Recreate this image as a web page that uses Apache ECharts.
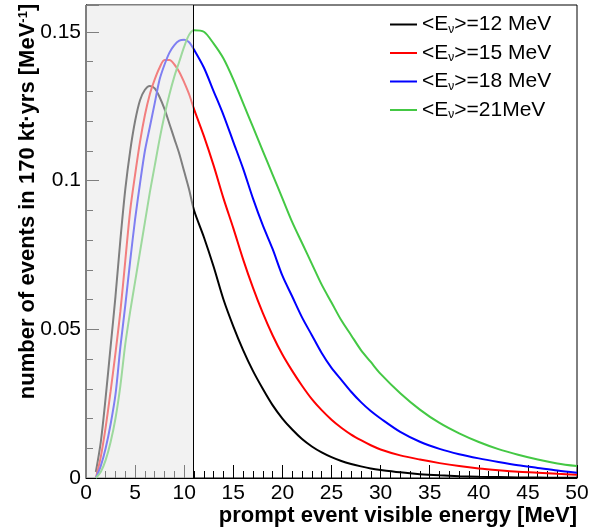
<!DOCTYPE html>
<html>
<head>
<meta charset="utf-8">
<script src="https://cdn.jsdelivr.net/npm/echarts@6/dist/echarts.min.js"></script>
<style>html,body{margin:0;padding:0;background:#fff}#c{width:590px;height:531px}</style>
</head>
<body>
<div id="c"></div>
<script>
// Energy grid [MeV]
const energy = [1,1.5,2,2.5,3,3.5,4,4.5,5,5.5,6,6.5,7,7.5,8,8.5,9,9.5,10,10.5,11,
  12,13,14,15,16,17,18,19,20,21,22,23,24,25,26,27,28,29,30,
  32,34,36,38,40,42,44,46,48,50];
const e12 = [0.002,0.012,0.027,0.044,0.061,0.080,0.097,0.110,0.120,0.127,0.1305,0.1318,0.131,0.128,0.124,0.119,0.114,0.109,0.103,0.097,0.090,
  0.081,0.071,0.060,0.051,0.043,0.036,0.030,0.0245,0.020,0.0163,0.0131,0.0106,0.0086,0.0070,0.0057,0.0047,0.0039,0.0032,0.0027,
  0.0019,0.0013,0.0009,0.0006,0.0004,0.0003,0.0002,0.00015,0.0001,0.00007];
const e15 = [0,0.007,0.017,0.029,0.042,0.056,0.073,0.090,0.102,0.113,0.122,0.129,0.134,0.138,0.1405,0.1405,0.139,0.1365,0.133,0.129,0.124,
  0.115,0.105,0.094,0.084,0.0735,0.064,0.0555,0.048,0.0415,0.036,0.031,0.0265,0.0228,0.0196,0.0169,0.0146,0.0127,0.011,0.0096,
  0.0076,0.0062,0.0050,0.0040,0.0032,0.0026,0.0021,0.0018,0.0014,0.0011];
const e18 = [0,0.004,0.010,0.018,0.028,0.044,0.058,0.073,0.087,0.099,0.110,0.118,0.126,0.134,0.139,0.143,0.1455,0.147,0.1473,0.1465,0.144,
  0.138,0.130,0.122,0.113,0.104,0.094,0.085,0.077,0.068,0.061,0.054,0.048,0.042,0.037,0.033,0.029,0.0255,0.0225,0.020,
  0.0155,0.0122,0.0098,0.0080,0.0066,0.0054,0.0043,0.0034,0.0025,0.0018];
const e21 = [0,0.002,0.006,0.012,0.020,0.031,0.045,0.056,0.066,0.076,0.086,0.096,0.105,0.114,0.122,0.129,0.135,0.140,0.145,0.149,0.1505,
  0.150,0.146,0.141,0.134,0.126,0.118,0.110,0.102,0.094,0.086,0.079,0.072,0.065,0.059,0.053,0.048,0.043,0.039,0.035,
  0.0285,0.0230,0.0185,0.0150,0.0121,0.0097,0.0078,0.0062,0.0049,0.0040];
const seriesNames = ['12 MeV','15 MeV','18 MeV','21MeV'];
const seriesColors = ['#000000','#ff0000','#0000ff','#44c844'];
const xTicks = [0,5,10,15,20,25,30,35,40,45,50];
const yTicks = [0,0.05,0.1,0.15];
const cutEnergy = 10.9;

const allValues = [e12,e15,e18,e21];
const chart = echarts.init(document.getElementById('c'), null, {renderer:'canvas'});
const FONT = 'Liberation Sans, Arial, sans-serif';
const series = allValues.map((vals,i)=>({
  name: seriesNames[i], type:'line', data: energy.map((e,k)=>[e, vals[k]]),
  showSymbol:false, symbol:'none', smooth:0.3, z:2,
  lineStyle:{color:seriesColors[i], width:2}, itemStyle:{color:seriesColors[i]}
}));
series.push({
  type:'line', data:[], z:10, silent:true,
  markArea:{silent:true, z:10, itemStyle:{color:'rgba(232,232,232,0.55)'},
    data:[[{coord:[0,0]},{coord:[cutEnergy,0.159]}]]},
  markLine:{silent:true, z:11, symbol:'none', label:{show:false},
    lineStyle:{color:'#000', width:1, type:'solid'},
    data:[{xAxis:cutEnergy}]}
});
chart.setOption({
  animation:false,
  backgroundColor:'#fff',
  grid:{left:86, right:13, top:5, bottom:53, containLabel:false, outerBoundsMode:'none',
    show:true, borderColor:'#000', borderWidth:1, backgroundColor:'#fff'},
  legend:{
    orient:'vertical', left:385, top:9, itemGap:7, itemWidth:27, itemHeight:2, icon:'rect',
    data: seriesNames,
    formatter: n => '<E{sub|ν}>=' + n,
    textStyle:{fontFamily:FONT, fontSize:21, color:'#000',
      rich:{sub:{fontFamily:FONT, fontSize:12, color:'#000', padding:[10,0,0,0]}}}
  },
  xAxis:{
    type:'value', min:0, max:50, interval:5,
    name:'prompt event visible energy [MeV]', nameLocation:'end', nameGap:0,
    nameTextStyle:{fontFamily:FONT, fontSize:22, fontWeight:'bold', color:'#000', align:'right', verticalAlign:'top', padding:[27,0,0,0]},
    axisLine:{onZero:false, lineStyle:{color:'#000', width:1}},
    axisTick:{inside:true, length:13, lineStyle:{color:'#000'}},
    minorTick:{show:true, splitNumber:5, length:7, lineStyle:{color:'#000'}},
    splitLine:{show:false},
    axisLabel:{fontFamily:FONT, fontSize:21, color:'#000', margin:5,
      formatter: v => xTicks.includes(v) ? String(v) : ''}
  },
  yAxis:{
    type:'value', min:0, max:0.159, interval:0.05,
    name:'number of events in 170 kt·yrs [MeV{sup|-1}]', nameLocation:'middle', nameGap:47, nameMoveOverlap:false,
    nameTextStyle:{fontFamily:FONT, fontSize:22, fontWeight:'bold', color:'#000', padding:[0,0,0,80],
      rich:{sup:{fontFamily:FONT, fontSize:13, fontWeight:'bold', color:'#000', padding:[0,0,9,0]}}},
    axisLine:{lineStyle:{color:'#000', width:1}},
    axisTick:{inside:true, length:13, lineStyle:{color:'#000'}},
    minorTick:{show:true, splitNumber:5, length:7, lineStyle:{color:'#000'}},
    splitLine:{show:false},
    axisLabel:{fontFamily:FONT, fontSize:21, color:'#000', margin:5, showMaxLabel:false,
      formatter: v => yTicks.some(t=>Math.abs(t-v)<1e-9) ? String(+v.toFixed(2)) : ''}
  },
  series: series
});
</script>
</body>
</html>
